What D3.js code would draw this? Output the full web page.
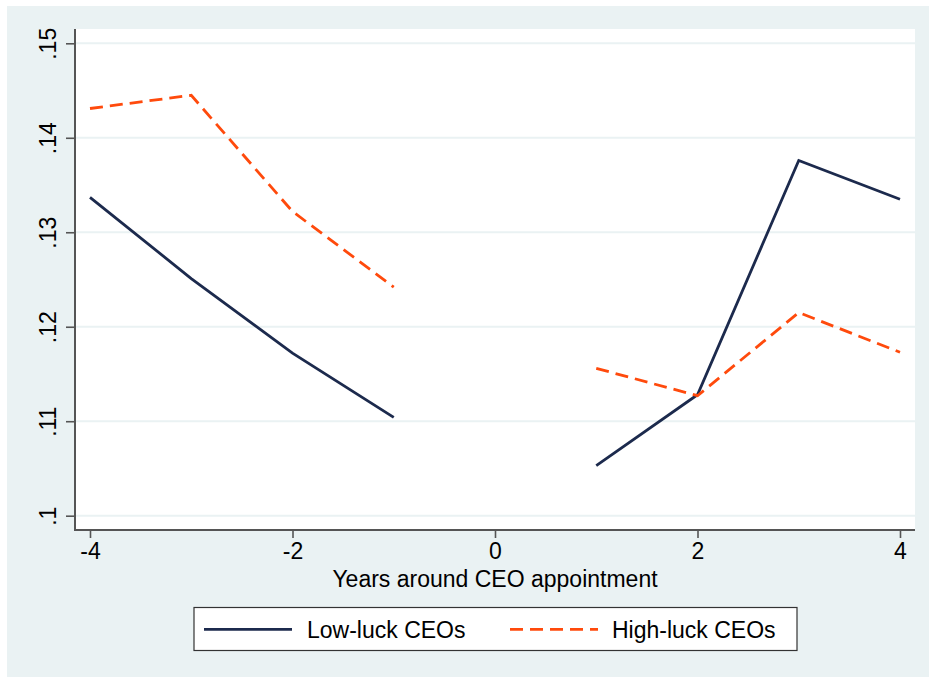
<!DOCTYPE html>
<html>
<head>
<meta charset="utf-8">
<script src="https://cdn.jsdelivr.net/npm/d3@7"></script>
<style>
  html, body { margin: 0; padding: 0; background: #ffffff; }
  svg { display: block; font-family: "Liberation Sans", Arial, Helvetica, sans-serif; }
</style>
</head>
<body>
<svg id="chart" width="929" height="677"></svg>
<script>
// Years relative to the CEO appointment (year 0 has no observation)
const years = [-4, -3, -2, -1, 0, 1, 2, 3, 4];
const lowLuck  = [0.1337, 0.1251, 0.1172, 0.1104, null, 0.1053, 0.1128, 0.1376, 0.1335];
const highLuck = [0.1431, 0.1445, 0.1322, 0.1242, null, 0.1156, 0.1127, 0.1215, 0.1173];

const yTicks = [0.10, 0.11, 0.12, 0.13, 0.14, 0.15];
const yTickLabels = [".1", ".11", ".12", ".13", ".14", ".15"];
const xTicks = [-4, -2, 0, 2, 4];
const xTitle = "Years around CEO appointment";
const seriesNames = ["Low-luck CEOs", "High-luck CEOs"];

const bg = "#eaf2f3";
const navy = "#1c2a4d";
const orange = "#ff4a0c";
const axisColor = "#555555";

const svg = d3.select("#chart");

// outer graph region
svg.append("rect").attr("x", 7).attr("y", 6).attr("width", 922).attr("height", 671).attr("fill", bg);

// plot region
const plot = { left: 75, right: 915, top: 29, bottom: 530 };
svg.append("rect")
  .attr("x", plot.left).attr("y", plot.top)
  .attr("width", plot.right - plot.left).attr("height", plot.bottom - plot.top)
  .attr("fill", "#ffffff");

const x = d3.scaleLinear().domain([-4, 4]).range([90, 900]);
const y = d3.scaleLinear().domain([0.10, 0.15]).range([515.7, 43.3]);

// horizontal grid lines
svg.append("g").selectAll("line").data(yTicks).join("line")
  .attr("x1", plot.left).attr("x2", plot.right)
  .attr("y1", d => y(d)).attr("y2", d => y(d))
  .attr("stroke", bg).attr("stroke-width", 2);

// y axis
const yAxis = svg.append("g")
  .attr("transform", `translate(${plot.left},0)`)
  .call(d3.axisLeft(y).tickValues(yTicks).tickSize(9).tickPadding(0)
        .tickFormat((d, i) => yTickLabels[i]));
yAxis.select(".domain").remove();
yAxis.append("line").attr("x1", 0).attr("x2", 0).attr("y1", plot.top).attr("y2", plot.bottom + 1)
  .attr("stroke", axisColor).attr("stroke-width", 2);
yAxis.selectAll(".tick line").attr("stroke", axisColor).attr("stroke-width", 1.6);
yAxis.selectAll(".tick text")
  .attr("x", null).attr("dy", null)
  .attr("fill", "#000").attr("font-size", 23)
  .attr("text-anchor", "middle")
  .attr("transform", "translate(-19,0) rotate(-90)");

// x axis
const xAxis = svg.append("g")
  .attr("transform", `translate(0,${plot.bottom})`)
  .call(d3.axisBottom(x).tickValues(xTicks).tickSize(8).tickPadding(5).tickFormat(d3.format("d")));
xAxis.select(".domain").remove();
xAxis.append("line").attr("x1", plot.left - 1).attr("x2", plot.right).attr("y1", 0).attr("y2", 0)
  .attr("stroke", axisColor).attr("stroke-width", 2);
xAxis.selectAll(".tick line").attr("stroke", axisColor).attr("stroke-width", 1.6);
xAxis.selectAll(".tick text").attr("fill", "#000").attr("font-size", 23)
  .text(d => d < 0 ? "-" + Math.abs(d) : String(d));

// x axis title
svg.append("text").attr("x", 495).attr("y", 587).attr("text-anchor", "middle")
  .attr("font-size", 23).attr("fill", "#000").text(xTitle);

// series lines
const line = d3.line()
  .defined(d => d[1] !== null)
  .x(d => x(d[0])).y(d => y(d[1]));

svg.append("path")
  .datum(years.map((yr, i) => [yr, lowLuck[i]]))
  .attr("d", line).attr("fill", "none")
  .attr("stroke", navy).attr("stroke-width", 2.8).attr("stroke-linejoin", "miter");

svg.append("path")
  .datum(years.map((yr, i) => [yr, highLuck[i]]))
  .attr("d", line).attr("fill", "none")
  .attr("stroke", orange).attr("stroke-width", 2.8)
  .attr("stroke-dasharray", "13,7");

// legend
const legend = svg.append("g");
legend.append("rect").attr("x", 194).attr("y", 607.5).attr("width", 603).attr("height", 43)
  .attr("fill", "#fff").attr("stroke", "#333").attr("stroke-width", 1.2);
const legendItems = [
  { name: seriesNames[0], color: navy, dash: null, x0: 204, tx: 307 },
  { name: seriesNames[1], color: orange, dash: "13,7", x0: 510, tx: 612 }
];
legendItems.forEach(it => {
  legend.append("line").attr("x1", it.x0).attr("x2", it.x0 + 88)
    .attr("y1", 629.3).attr("y2", 629.3)
    .attr("stroke", it.color).attr("stroke-width", 2.8)
    .attr("stroke-dasharray", it.dash);
  legend.append("text").attr("x", it.tx).attr("y", 637.5)
    .attr("font-size", 23).attr("fill", "#000").text(it.name);
});
</script>
</body>
</html>
